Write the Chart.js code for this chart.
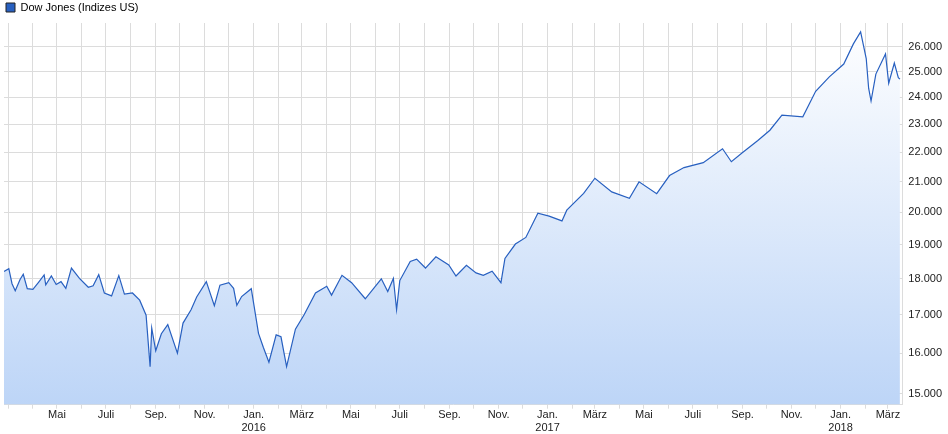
<!DOCTYPE html>
<html>
<head>
<meta charset="utf-8">
<script src="https://cdn.jsdelivr.net/npm/chart.js@4/dist/chart.umd.min.js"></script>
<style>
  body { margin: 0; background: #fff; }
  #wrap { position: relative; width: 948px; height: 434px; }
</style>
</head>
<body>
<div id="wrap"><canvas id="chart"></canvas></div>
<script>
// Dow Jones, approx. closes
const dates = [
  '2015-02-24','2015-03-02','2015-03-06','2015-03-10','2015-03-16','2015-03-20','2015-03-25','2015-04-01','2015-04-08','2015-04-15','2015-04-17','2015-04-24',
  '2015-04-30','2015-05-06','2015-05-12','2015-05-19','2015-05-29','2015-06-09','2015-06-15','2015-06-22','2015-06-29','2015-07-08','2015-07-17',
  '2015-07-24','2015-08-03','2015-08-12','2015-08-20','2015-08-25','2015-08-27','2015-09-01','2015-09-08','2015-09-16',
  '2015-09-28','2015-10-05','2015-10-15','2015-10-22','2015-11-03','2015-11-13','2015-11-20','2015-12-01',
  '2015-12-07','2015-12-11','2015-12-17','2015-12-29','2016-01-07','2016-01-13','2016-01-20','2016-01-29','2016-02-04','2016-02-11','2016-02-22',
  '2016-03-04','2016-03-18','2016-04-01','2016-04-07','2016-04-20','2016-05-02','2016-05-19','2016-06-08',
  '2016-06-16','2016-06-23','2016-06-27','2016-07-01','2016-07-14','2016-07-22','2016-08-02','2016-08-15',
  '2016-08-31','2016-09-09','2016-09-22','2016-10-04','2016-10-13','2016-10-24','2016-11-04','2016-11-09',
  '2016-11-22','2016-12-05','2016-12-20','2017-01-03','2017-01-19','2017-01-25','2017-02-15','2017-03-01',
  '2017-03-22','2017-04-13','2017-04-25','2017-05-17','2017-06-02','2017-06-20','2017-07-14','2017-08-07',
  '2017-08-18','2017-09-01','2017-09-20','2017-10-05','2017-10-20','2017-11-15','2017-12-01','2017-12-18',
  '2018-01-05','2018-01-17','2018-01-26','2018-02-02','2018-02-05','2018-02-08','2018-02-14','2018-02-26',
  '2018-03-02','2018-03-09','2018-03-14','2018-03-16'
];
const values = [
  18210, 18290, 17860, 17660, 17980, 18130, 17720, 17700, 17900, 18110, 17830, 18080,
  17840, 17920, 17730, 18310, 18010, 17760, 17800, 18120, 17600, 17520, 18090,
  17570, 17600, 17400, 16990, 15660, 16650, 16060, 16500, 16740,
  16000, 16780, 17140, 17490, 17920, 17250, 17820, 17890,
  17730, 17260, 17500, 17720, 16510, 16150, 15770, 16470, 16420, 15660, 16620,
  17010, 17600, 17790, 17540, 18100, 17890, 17440, 18000,
  17640, 18010, 17140, 17950, 18500, 18570, 18310, 18640,
  18400, 18080, 18390, 18170, 18100, 18220, 17890, 18590,
  19020, 19220, 19970, 19880, 19730, 20070, 20610, 21110,
  20660, 20450, 20990, 20600, 21200, 21470, 21640, 22120,
  21670, 21990, 22410, 22780, 23330, 23270, 24230, 24790,
  25300, 26120, 26620, 25520, 24350, 23860, 24900, 25710,
  24540, 25340, 24760, 24700
];
const monthNames = ['Jan.','Feb.','März','Apr.','Mai','Juni','Juli','Aug.','Sep.','Okt.','Nov.','Dez.'];
const yTicks = [15000,16000,17000,18000,19000,20000,21000,22000,23000,24000,25000,26000];

const day = s => Date.UTC(+s.slice(0,4), +s.slice(5,7)-1, +s.slice(8,10)) / 86400000;
const points = dates.map((d, i) => ({ x: day(d), y: values[i] }));
const xMin = day('2015-02-24'), xMax = day('2018-03-19'), firstLabel = day('2015-04-15');

const monthTicks = [];
for (let y = 2015; y <= 2018; y++) {
  for (let m = 0; m < 12; m++) {
    const v = Date.UTC(y, m, 1) / 86400000;
    if (v > xMin && v < xMax) monthTicks.push({ value: v });
  }
}

const ctx = document.getElementById('chart');
new Chart(ctx, {
  type: 'line',
  data: {
    datasets: [{
      label: 'Dow Jones (Indizes US)',
      data: points,
      borderColor: '#2860c0',
      backgroundColor: '#2860c0',
      borderWidth: 1.2,
      pointRadius: 0,
      tension: 0,
      fill: {
        target: 'origin',
        above: (c) => {
          const a = c.chart.chartArea;
          if (!a) return '#dbe7fa';
          const g = c.chart.ctx.createLinearGradient(0, a.top, 0, a.bottom);
          g.addColorStop(0, '#ffffff');
          g.addColorStop(1, '#bdd5f7');
          return g;
        }
      }
    }]
  },
  options: {
    responsive: true,
    maintainAspectRatio: false,
    animation: false,
    layout: { padding: { left: 4, top: 0, right: 0, bottom: 0 } },
    plugins: {
      legend: {
        align: 'start',
        labels: {
          boxWidth: 9, boxHeight: 9, padding: 2, color: '#222',
          font: { family: 'Liberation Sans, Arial', size: 11 },
          generateLabels: () => [{ text: 'Dow Jones (Indizes US)', fillStyle: '#2860c0', strokeStyle: '#222', lineWidth: 1 }]
        }
      },
      tooltip: { enabled: false }
    },
    scales: {
      x: {
        type: 'linear',
        min: xMin,
        max: xMax,
        afterBuildTicks: (s) => { s.ticks = monthTicks.map(t => ({ value: t.value })); },
        ticks: {
          autoSkip: false, maxRotation: 0, color: '#222', padding: 0,
          font: { family: 'Liberation Sans, Arial', size: 11, lineHeight: 1.15 },
          callback: (v) => {
            const d = new Date(v * 86400000);
            const m = d.getUTCMonth();
            if (m % 2 === 1 || v < firstLabel) return '';
            return m === 0 ? [monthNames[m], String(d.getUTCFullYear())] : monthNames[m];
          }
        },
        grid: { color: '#dcdcdc', tickLength: 4 },
        border: { color: '#dcdcdc' }
      },
      y: {
        type: 'logarithmic',
        position: 'right',
        min: 14744,
        max: 27000,
        afterBuildTicks: (s) => { s.ticks = yTicks.map(v => ({ value: v })); },
        ticks: {
          color: '#222', padding: 6,
          font: { family: 'Liberation Sans, Arial', size: 11 },
          callback: (v) => v.toLocaleString('de-DE')
        },
        grid: { color: '#dcdcdc', tickLength: 0 },
        border: { color: '#dcdcdc' }
      }
    }
  }
});
</script>
</body>
</html>
